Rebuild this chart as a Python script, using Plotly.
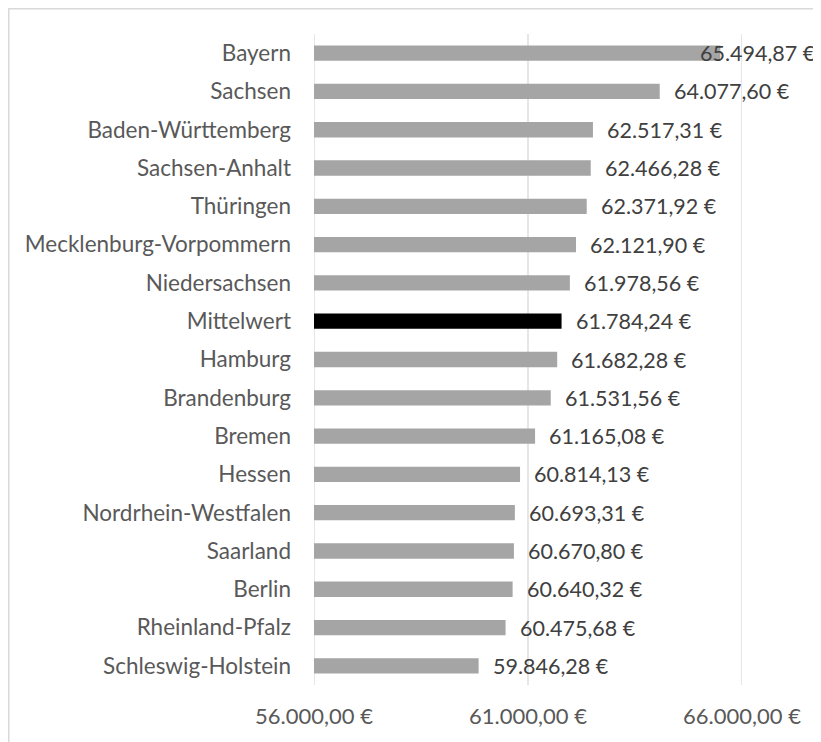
import plotly.graph_objects as go

categories = ["Bayern", "Sachsen", "Baden-Württemberg", "Sachsen-Anhalt", "Thüringen",
              "Mecklenburg-Vorpommern", "Niedersachsen", "Mittelwert", "Hamburg", "Brandenburg",
              "Bremen", "Hessen", "Nordrhein-Westfalen", "Saarland", "Berlin",
              "Rheinland-Pfalz", "Schleswig-Holstein"]
values = [65494.87, 64077.60, 62517.31, 62466.28, 62371.92,
          62121.90, 61978.56, 61784.24, 61682.28, 61531.56,
          61165.08, 60814.13, 60693.31, 60670.80, 60640.32,
          60475.68, 59846.28]
tick_values = [56000, 61000, 66000]


def de_fmt(v):
    s = f"{v:,.2f}"
    return s.replace(",", "X").replace(".", ",").replace("X", ".") + " €"


tick_text = [de_fmt(v) for v in tick_values]
colors = ["#000000" if c == "Mittelwert" else "#A5A5A5" for c in categories]

FONT = "Lato"
W, H = 813, 734
L, R, T, B = 306, 79, 26, 57
pw, ph = W - L - R, H - T - B


def px_x(p):
    return (p - L) / pw


def px_y(p):
    return (H - B - p) / ph


fig = go.Figure(go.Bar(
    y=categories, x=values, orientation="h",
    marker=dict(color=colors, line=dict(width=0)),
    hoverinfo="skip",
))

for tv in tick_values:
    fig.add_shape(type="line", xref="x", yref="paper", x0=tv, x1=tv, y0=0, y1=1,
                  line=dict(color="#D9D9D9", width=1.3), layer="below")

xmax = max(tick_values)
for c, v in zip(categories, values):
    if (xmax - v) > 1000:
        anchor, shift = "left", 12
    else:
        anchor, shift = "right", 98
    fig.add_annotation(x=v, y=c, xref="x", yref="y", text=de_fmt(v),
                       showarrow=False, xanchor=anchor, yanchor="middle", xshift=shift,
                       font=dict(family=FONT, size=21.5, color="#404040"))

fig.add_shape(type="rect", xref="paper", yref="paper",
              x0=px_x(0.8), x1=px_x(840), y0=px_y(760), y1=px_y(0.8),
              line=dict(color="#D9D9D9", width=1.5), fillcolor="rgba(0,0,0,0)", layer="below")

fig.update_layout(
    width=W, height=H,
    margin=dict(l=L, r=R, t=T, b=B, autoexpand=False),
    paper_bgcolor="white", plot_bgcolor="white",
    bargap=0.6,
    showlegend=False,
    font=dict(family=FONT, size=22, color="#595959"),
    xaxis=dict(range=[56000, 66000], tickvals=tick_values, ticktext=tick_text,
               showgrid=False, zeroline=False, automargin=False,
               showline=False, ticks="", ticklabelstandoff=16,
               tickfont=dict(family=FONT, size=22, color="#595959")),
    yaxis=dict(autorange="reversed", showgrid=False, zeroline=False, showline=False,
               ticks="", ticklabelstandoff=22, automargin=False,
               tickfont=dict(family=FONT, size=22.5, color="#595959")),
)

fig.write_html("out.html")
